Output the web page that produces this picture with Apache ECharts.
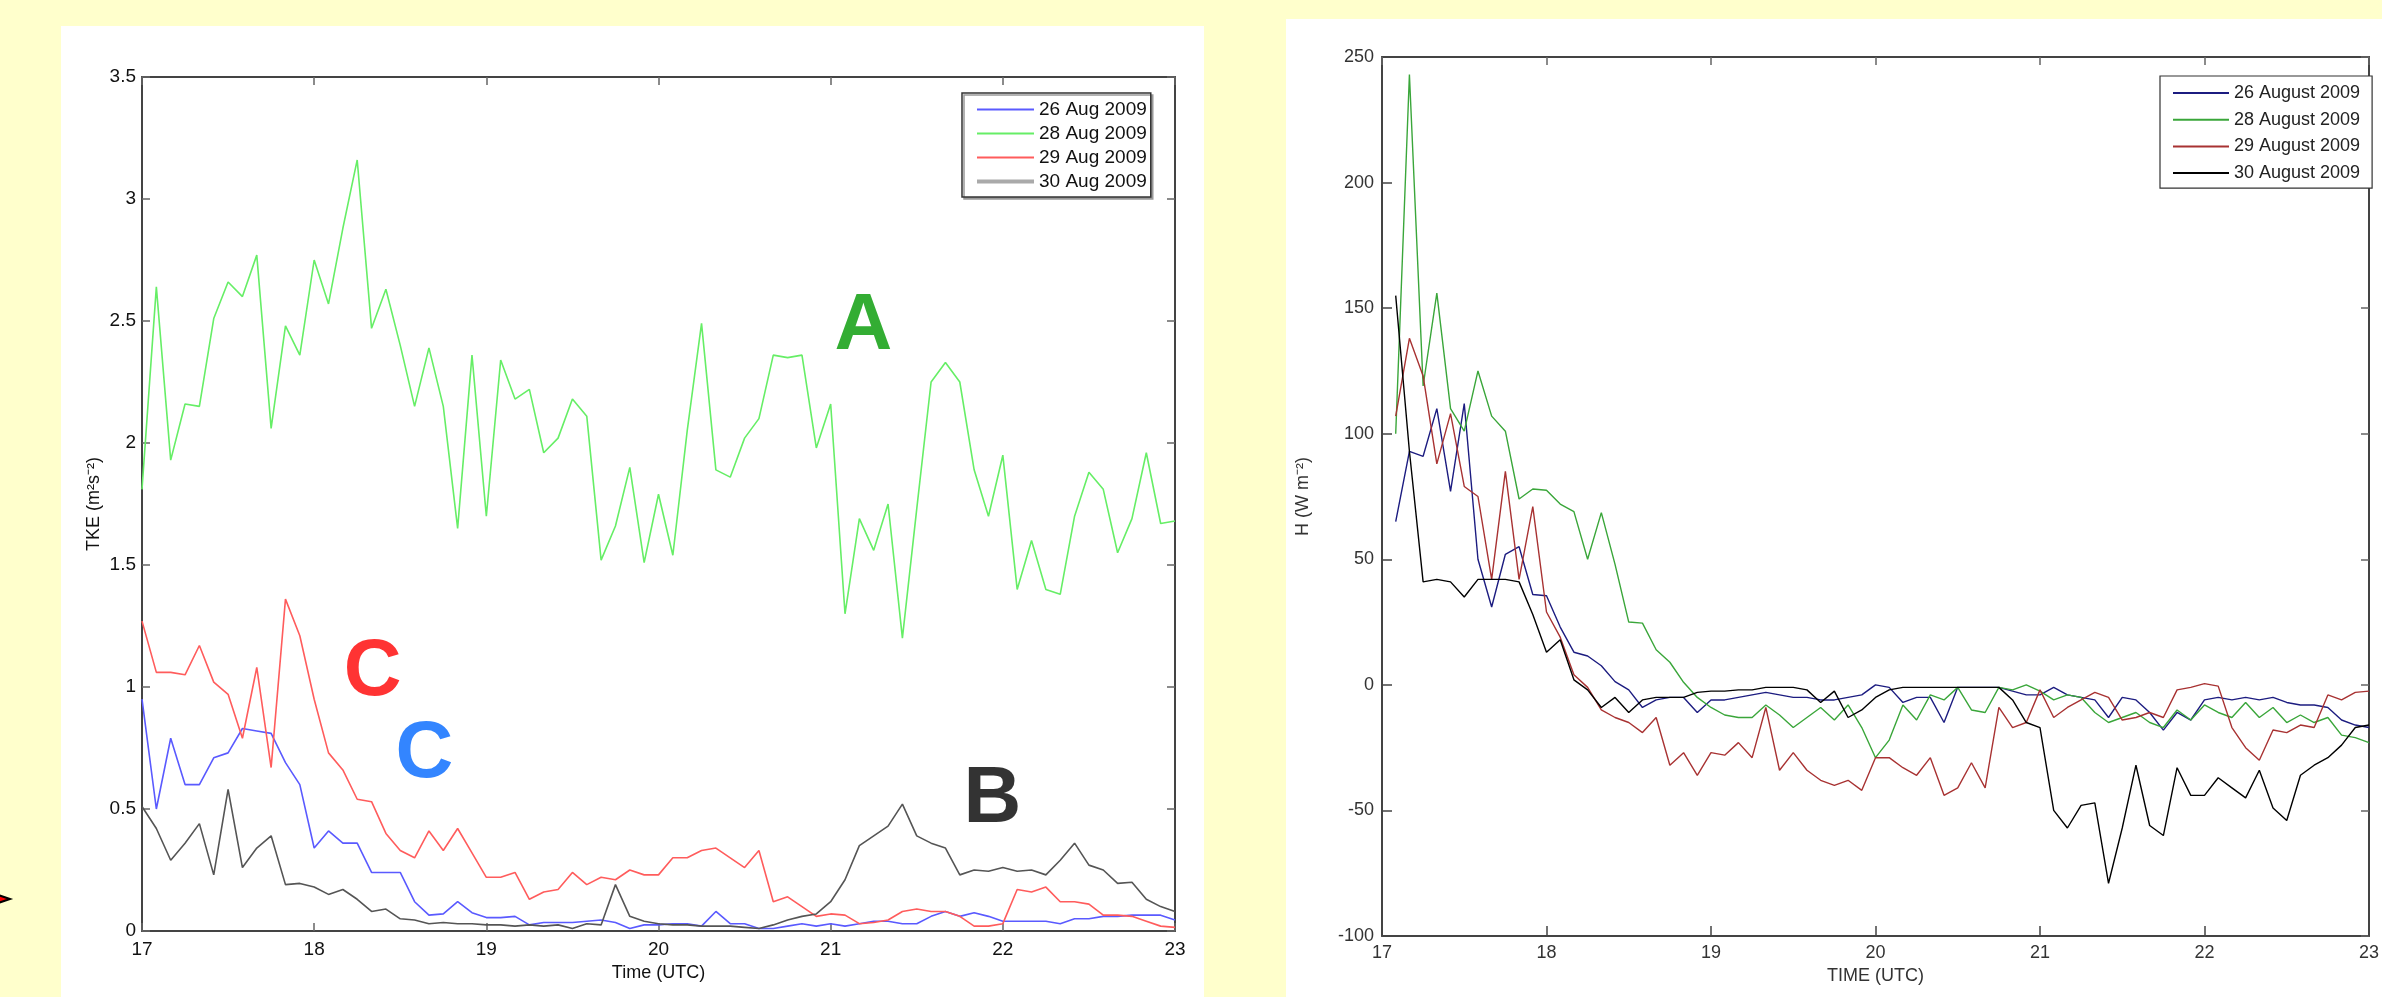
<!DOCTYPE html>
<html>
<head>
<meta charset="utf-8">
<title>TKE and H</title>
<script src="https://cdn.jsdelivr.net/npm/echarts@6/dist/echarts.min.js"></script>
<style>
  html, body { margin: 0; padding: 0; background: #ffffcc; }
  #main { width: 2382px; height: 997px; }
</style>
</head>
<body>
<div id="main"></div>
<script>
// left panel: TKE (m2 s-2), 5 min samples from 17:00 to 23:00 UTC
let tkeNames = ['26 Aug 2009', '28 Aug 2009', '29 Aug 2009', '30 Aug 2009'];
let tke26 = [0.95, 0.50, 0.79, 0.60, 0.60, 0.71, 0.73, 0.83, 0.82, 0.81, 0.69, 0.60,
    0.34, 0.41, 0.36, 0.36, 0.24, 0.24, 0.24, 0.12, 0.065, 0.07, 0.12, 0.075,
    0.055, 0.055, 0.06, 0.025, 0.035, 0.035, 0.035, 0.04, 0.045, 0.035, 0.01, 0.025,
    0.025, 0.03, 0.03, 0.02, 0.08, 0.03, 0.03, 0.01, 0.01, 0.02, 0.03, 0.02,
    0.03, 0.02, 0.03, 0.04, 0.04, 0.03, 0.03, 0.06, 0.08, 0.06, 0.075, 0.06,
    0.04, 0.04, 0.04, 0.04, 0.03, 0.05, 0.05, 0.06, 0.06, 0.065, 0.065, 0.065,
    0.045];
let tke28 = [1.81, 2.64, 1.93, 2.16, 2.15, 2.51, 2.66, 2.60, 2.77, 2.06, 2.48, 2.36,
    2.75, 2.57, 2.88, 3.16, 2.47, 2.63, 2.40, 2.15, 2.39, 2.15, 1.65, 2.36,
    1.70, 2.34, 2.18, 2.22, 1.96, 2.02, 2.18, 2.11, 1.52, 1.66, 1.90, 1.51,
    1.79, 1.54, 2.05, 2.49, 1.89, 1.86, 2.02, 2.10, 2.36, 2.35, 2.36, 1.98,
    2.16, 1.30, 1.69, 1.56, 1.75, 1.20, 1.73, 2.25, 2.33, 2.25, 1.89, 1.70,
    1.95, 1.40, 1.60, 1.40, 1.38, 1.70, 1.88, 1.81, 1.55, 1.69, 1.96, 1.67,
    1.68];
let tke29 = [1.27, 1.06, 1.06, 1.05, 1.17, 1.02, 0.97, 0.79, 1.08, 0.67, 1.36, 1.21,
    0.95, 0.73, 0.66, 0.54, 0.53, 0.40, 0.33, 0.30, 0.41, 0.33, 0.42, 0.32,
    0.22, 0.22, 0.24, 0.13, 0.16, 0.17, 0.24, 0.19, 0.22, 0.21, 0.25, 0.23,
    0.23, 0.30, 0.30, 0.33, 0.34, 0.30, 0.26, 0.33, 0.12, 0.14, 0.10, 0.06,
    0.07, 0.065, 0.03, 0.035, 0.045, 0.08, 0.09, 0.08, 0.08, 0.06, 0.02, 0.02,
    0.03, 0.17, 0.16, 0.18, 0.12, 0.12, 0.11, 0.065, 0.065, 0.06, 0.04, 0.02,
    0.015];
let tke30 = [0.51, 0.42, 0.29, 0.36, 0.44, 0.23, 0.58, 0.26, 0.34, 0.39, 0.19, 0.195,
    0.18, 0.15, 0.17, 0.13, 0.08, 0.09, 0.05, 0.045, 0.03, 0.035, 0.03, 0.03,
    0.025, 0.025, 0.02, 0.025, 0.02, 0.025, 0.01, 0.03, 0.025, 0.19, 0.06, 0.04,
    0.03, 0.025, 0.025, 0.02, 0.02, 0.02, 0.015, 0.01, 0.025, 0.045, 0.06, 0.07,
    0.12, 0.21, 0.35, 0.39, 0.43, 0.52, 0.39, 0.36, 0.34, 0.23, 0.25, 0.245,
    0.26, 0.245, 0.25, 0.23, 0.29, 0.36, 0.27, 0.25, 0.195, 0.20, 0.13, 0.10,
    0.08];

// right panel: sensible heat flux H (W m-2), 5 min samples from 17:05 to 23:00 UTC
let hNames = ['26 August 2009', '28 August 2009', '29 August 2009', '30 August 2009'];
let h26 = [65, 93, 91, 110, 77, 112, 50, 31, 52, 55, 36, 35.5,
    23, 13, 11.5, 7.6, 1.3, -2, -9, -6, -5, -5, -11, -6,
    -6, -5, -4, -3, -4, -5, -5, -6, -6, -5, -4, 0,
    -1, -7, -5, -5, -15, -1, -1, -1, -1, -2.5, -4, -4,
    -1, -4, -5, -6, -13, -5, -6, -11, -18, -11, -14, -6,
    -5, -6, -5, -6, -5, -7, -8, -8, -9, -14, -16, -17];
let h28 = [100, 243, 119, 156, 110, 101, 125, 107, 101, 74, 78, 77.5,
    72, 69, 50, 68.6, 48, 25, 24.6, 14, 9, 1, -5, -9,
    -12, -13, -13, -8, -12, -17, -13, -9, -14, -8, -17, -29,
    -22, -8, -14, -4, -6, -1, -10, -11, -1, -2, 0, -2.5,
    -6, -4, -5, -11, -15, -13, -11, -15, -17, -10, -14, -8,
    -11, -13, -7, -13, -9, -15, -12, -15, -13, -20, -21, -23];
let h29 = [107, 138, 123, 88, 108, 79, 75, 42, 85, 42, 71, 29,
    19, 4, -1, -10, -13, -15, -19, -13, -32, -27, -36, -27,
    -28, -23, -29, -9, -34, -27, -34, -38, -40, -38, -42, -29,
    -29, -33, -36, -29, -44, -41, -31, -41, -9, -17, -15, -2,
    -13, -9, -6, -3, -5, -14, -13, -11, -13, -2, -1, 0.5,
    -0.5, -17, -25, -30, -18, -19, -16, -17, -4, -6, -3, -2.5];
let h30 = [155, 93, 41, 42, 41, 35, 42, 42, 42, 41, 28, 13,
    18, 2, -2, -9, -5, -11, -6, -5, -5, -5, -3, -2.5,
    -2.5, -2, -2, -1, -1, -1, -2, -7, -2.5, -13, -10, -5,
    -2, -1, -1, -1, -1, -1, -1, -1, -1, -6, -15, -17,
    -50, -57, -48, -47, -79, -57, -32, -56, -60, -33, -44, -44,
    -37, -41, -45, -34, -49, -54, -36, -32, -29, -24, -17, -16];

// letters written on the left panel
let noteText = ['A', 'C', 'C', 'B'];
let noteTime = [21.19, 18.34, 18.64, 21.94];
let noteValue = [2.475, 1.057, 0.72, 0.537];
let noteColor = ['#009900', '#ff0000', '#0066ff', '#000000'];

let tkeColors = ['#5a5aff', '#66ee66', '#ff5c5c', '#555555'];
let hColors = ['#1c1c80', '#3aa63a', '#a83232', '#000000'];

function pairs(start, vals) {
    let out = [];
    for (let i = 0; i < vals.length; i++) {
        out.push([start + i * 5 / 60, vals[i]]);
    }
    return out;
}

let tkeSeries = [tke26, tke28, tke29, tke30];
let hSeries = [h26, h28, h29, h30];

let FONT = 'Liberation Sans';

// extra top / right axes so the plot is boxed like the matlab figure
function boxAxis(gridIndex, min, max, interval, pos) {
    return {
        type: 'value', gridIndex: gridIndex, position: pos,
        min: min, max: max, interval: interval,
        axisLine: {show: true, onZero: false, lineStyle: {color: '#444', width: 2}},
        axisTick: {show: true, inside: true, length: 8, lineStyle: {color: '#666', width: 1.5}},
        axisLabel: {show: false},
        splitLine: {show: false}
    };
}

let series = [];
tkeSeries.forEach(function (vals, i) {
    series.push({
        name: tkeNames[i], type: 'line', xAxisIndex: 0, yAxisIndex: 0,
        data: pairs(17, vals), symbol: 'none', animation: false,
        lineStyle: {color: tkeColors[i], width: 1.6},
        itemStyle: {color: tkeColors[i]}
    });
});
hSeries.forEach(function (vals, i) {
    series.push({
        name: hNames[i], type: 'line', xAxisIndex: 2, yAxisIndex: 2,
        data: pairs(17 + 5 / 60, vals), symbol: 'none', animation: false,
        lineStyle: {color: hColors[i], width: 1.4},
        itemStyle: {color: hColors[i]}
    });
});
series.push({
    name: 'notes', type: 'scatter', xAxisIndex: 0, yAxisIndex: 0,
    symbolSize: 0, silent: true, animation: false, z: 10,
    data: noteText.map(function (t, i) {
        return {name: t, value: [noteTime[i], noteValue[i]], label: {color: noteColor[i]}};
    }),
    label: {
        show: true, position: 'inside', formatter: '{b}',
        fontSize: 80, fontWeight: 'bold', fontFamily: FONT
    }
});

let hideDot = {color: 'rgba(0,0,0,0)', borderWidth: 0, opacity: 0};

let myChart = echarts.init(document.getElementById('main'));
let option = {
    backgroundColor: '#ffffcc',
    animation: false,
    graphic: [
        {type: 'rect', shape: {x: 61, y: 26, width: 1143, height: 971}, style: {fill: '#ffffff'}, z: -10},
        {type: 'rect', shape: {x: 1286, y: 19, width: 1096, height: 978}, style: {fill: '#ffffff'}, z: -10},
        {type: 'polygon', shape: {points: [[-14, 891], [10, 899], [-14, 907]]},
            style: {fill: '#ff0000', stroke: '#000000', lineWidth: 2}}
    ],
    grid: [
        {left: 142, top: 77, width: 1033, height: 854},
        {left: 1382, top: 57, width: 1008, height: 879}
    ],
    legend: [
        {
            data: tkeNames.map(function (n, i) {
                return i === 3 ? {name: n, lineStyle: {color: '#aaaaaa', width: 4}} : {name: n};
            }),
            orient: 'vertical', left: 962, top: 93,
            itemWidth: 57, itemHeight: 10, itemGap: 5,
            padding: [7, 4, 6, 13],
            itemStyle: hideDot,
            backgroundColor: '#ffffff', borderColor: '#333', borderWidth: 1.5,
            shadowColor: '#999', shadowOffsetX: 2, shadowOffsetY: 2, shadowBlur: 0,
            selectedMode: false,
            textStyle: {fontSize: 19, lineHeight: 19, color: '#111', fontFamily: FONT}
        },
        {
            data: hNames,
            orient: 'vertical', left: 2160, top: 76,
            itemWidth: 56, itemHeight: 10, itemGap: 8.7,
            padding: [8, 12, 6, 12],
            itemStyle: hideDot,
            backgroundColor: '#ffffff', borderColor: '#333', borderWidth: 1.2,
            selectedMode: false,
            textStyle: {fontSize: 18, lineHeight: 18, color: '#222', fontFamily: FONT}
        }
    ],
    xAxis: [
        {
            type: 'value', gridIndex: 0, min: 17, max: 23, interval: 1,
            name: 'Time (UTC)', nameLocation: 'middle', nameGap: 32,
            nameTextStyle: {fontSize: 18, color: '#111', fontFamily: FONT},
            axisLine: {show: true, onZero: false, lineStyle: {color: '#444', width: 2}},
            axisTick: {show: true, inside: true, length: 8, lineStyle: {color: '#666', width: 1.5}},
            axisLabel: {fontSize: 19, color: '#111', fontFamily: FONT, margin: 9},
            splitLine: {show: false}
        },
        boxAxis(0, 17, 23, 1, 'top'),
        {
            type: 'value', gridIndex: 1, min: 17, max: 23, interval: 1,
            name: 'TIME (UTC)', nameLocation: 'middle', nameGap: 30,
            nameTextStyle: {fontSize: 18, color: '#333', fontFamily: FONT},
            axisLine: {show: true, onZero: false, lineStyle: {color: '#444', width: 2}},
            axisTick: {show: true, inside: true, length: 10, lineStyle: {color: '#444', width: 1.5}},
            axisLabel: {fontSize: 18, color: '#333', fontFamily: FONT, margin: 8},
            splitLine: {show: false}
        },
        boxAxis(1, 17, 23, 1, 'top')
    ],
    yAxis: [
        {
            type: 'value', gridIndex: 0, min: 0, max: 3.5, interval: 0.5,
            name: 'TKE (m²s⁻²)', nameLocation: 'middle', nameGap: 39,
            nameTextStyle: {fontSize: 18, color: '#111', fontFamily: FONT},
            axisLine: {show: true, onZero: false, lineStyle: {color: '#444', width: 2}},
            axisTick: {show: true, inside: true, length: 8, lineStyle: {color: '#666', width: 1.5}},
            axisLabel: {fontSize: 19, color: '#111', fontFamily: FONT, margin: 6},
            splitLine: {show: false}
        },
        boxAxis(0, 0, 3.5, 0.5, 'right'),
        {
            type: 'value', gridIndex: 1, min: -100, max: 250, interval: 50,
            name: 'H (W m⁻²)', nameLocation: 'middle', nameGap: 70,
            nameTextStyle: {fontSize: 18, color: '#333', fontFamily: FONT},
            axisLine: {show: true, onZero: false, lineStyle: {color: '#444', width: 2}},
            axisTick: {show: true, inside: true, length: 10, lineStyle: {color: '#444', width: 1.5}},
            axisLabel: {fontSize: 18, color: '#333', fontFamily: FONT, margin: 8},
            splitLine: {show: false}
        },
        boxAxis(1, -100, 250, 50, 'right')
    ],
    series: series
};
myChart.setOption(option);
</script>
</body>
</html>
